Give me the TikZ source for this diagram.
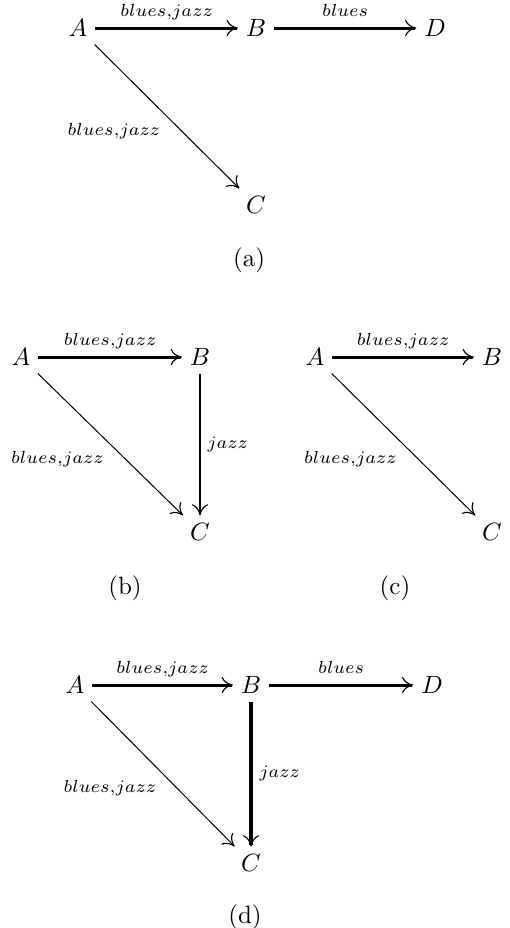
\documentclass[tikz,border=0pt]{standalone}
\usepackage{amsmath}
\usetikzlibrary{arrows.meta}
\tikzset{
    vtx/.style={inner sep=3pt},
    lbl/.style={font=\scriptsize,inner sep=2.5pt,text depth=1.5pt},
    subcap/.style={font=\normalsize},
    flow/.style={draw,-{Computer Modern Rightarrow[length=4.5pt,width=6.5pt,line width=0.45pt]}},
    weak/.style={flow,line width=0.4pt},
    mid/.style={flow,line width=0.8pt},
    strong/.style={flow,line width=1.2pt},
    heavy/.style={flow,line width=1.6pt}
}

\begin{document}
\begin{tikzpicture}[x=0.4pt,y=-0.4pt]
\useasboundingbox (0,0) rectangle (509,928);
% (a)
\node[vtx] (aA) at (78,28) {$A$};
\node[vtx] (aB) at (256,28) {$B$};
\node[vtx] (aD) at (435,28) {$D$};
\node[vtx] (aC) at (256,205) {$C$};
\draw[strong] (aA) -- node[lbl,above] {$blues{,}jazz$} (aB);
\draw[strong] (aB) -- node[lbl,above] {$blues$} (aD);
\draw[weak] (aA) -- node[lbl,below left] {$blues{,}jazz$} (aC);
\node[subcap] (acap) at (249,260) {(a)};
% (b)
\node[vtx] (bA) at (21,357) {$A$};
\node[vtx] (bB) at (200,357) {$B$};
\node[vtx] (bC) at (200,532) {$C$};
\draw[strong] (bA) -- node[lbl,above] {$blues{,}jazz$} (bB);
\draw[mid] (bB) -- node[lbl,right] {$jazz$} (bC);
\draw[weak] (bA) -- node[lbl,below left] {$blues{,}jazz$} (bC);
\node[subcap] (bcap) at (125,588) {(b)};
% (c)
\node[vtx] (cA) at (315,357) {$A$};
\node[vtx] (cB) at (492,357) {$B$};
\node[vtx] (cC) at (492,532) {$C$};
\draw[strong] (cA) -- node[lbl,above] {$blues{,}jazz$} (cB);
\draw[weak] (cA) -- node[lbl,below left] {$blues{,}jazz$} (cC);
\node[subcap] (ccap) at (395,588) {(c)};
% (d)
\node[vtx] (dA) at (75,685) {$A$};
\node[vtx] (dB) at (251,685) {$B$};
\node[vtx] (dD) at (432,685) {$D$};
\node[vtx] (dC) at (251,863) {$C$};
\draw[strong] (dA) -- node[lbl,above] {$blues{,}jazz$} (dB);
\draw[strong] (dB) -- node[lbl,above] {$blues$} (dD);
\draw[heavy] (dB) -- node[lbl,right] {$jazz$} (dC);
\draw[weak] (dA) -- node[lbl,below left] {$blues{,}jazz$} (dC);
\node[subcap] (dcap) at (245,917) {(d)};
\end{tikzpicture}
\end{document}
